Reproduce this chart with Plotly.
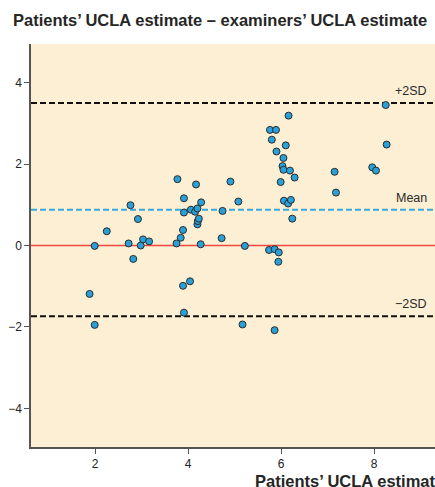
import plotly.graph_objects as go

# Bland-Altman data
avg = [1.88, 1.99, 1.99, 2.25, 2.72, 2.76, 2.82, 2.92, 2.98, 3.03, 3.16, 3.75, 3.77, 3.84,
       3.89, 3.89, 3.91, 3.91, 3.91, 4.04, 4.06, 4.15, 4.17, 4.20, 4.20, 4.21, 4.23, 4.27,
       4.28, 4.72, 4.74, 4.91, 5.08, 5.17, 5.22, 5.74, 5.76, 5.80, 5.86, 5.86, 5.89, 5.90,
       5.94, 5.95, 5.99, 6.03, 6.05, 6.05, 6.06, 6.10, 6.15, 6.16, 6.19, 6.21, 6.24, 6.29,
       7.15, 7.18, 7.96, 8.04, 8.25, 8.27]
diff = [-1.19, -0.01, -1.95, 0.35, 0.05, 0.99, -0.33, 0.65, 0.00, 0.15, 0.10, 0.05, 1.63, 0.19,
        0.38, -0.99, 1.16, 0.81, -1.65, -0.88, 0.88, 0.83, 1.50, 0.91, 0.52, 0.60, 0.66, 0.03,
        1.06, 0.18, 0.85, 1.57, 1.08, -1.94, -0.01, -0.11, 2.84, 2.60, -0.09, -2.08, 2.84, 2.31,
        -0.40, -0.17, 1.56, 1.95, 2.15, 1.86, 1.10, 2.46, 1.03, 3.19, 1.84, 1.12, 0.66, 1.67,
        1.81, 1.30, 1.92, 1.84, 3.45, 2.48]

mean_diff = 0.88
upper_loa = 3.50
lower_loa = -1.74
zero_line = 0

line_values = [upper_loa, mean_diff, lower_loa]
line_labels = ["+2SD", "Mean", "\u22122SD"]

x_ticks = [2, 4, 6, 8]
y_ticks = [-4, -2, 0, 2, 4]
y_tick_labels = ["\u22124", "\u22122", "0", "2", "4"]

title_text = "<b>Patients\u2019 UCLA estimate \u2013 examiners\u2019 UCLA estimate</b>"
x_title_text = "<b>Patients\u2019 UCLA estimate</b>"

FONT = "Liberation Sans, Arial, sans-serif"

fig = go.Figure()

# zero line
fig.add_trace(go.Scatter(x=[0.62, 9.31], y=[zero_line, zero_line], mode="lines",
                         line=dict(color="#F2473F", width=1.3), showlegend=False, hoverinfo="skip"))
# mean line
fig.add_trace(go.Scatter(x=[0.62, 9.31], y=[mean_diff, mean_diff], mode="lines",
                         line=dict(color="#35A9E0", width=2, dash="6px,3px"),
                         showlegend=False, hoverinfo="skip"))
# limits of agreement
for v in (upper_loa, lower_loa):
    fig.add_trace(go.Scatter(x=[0.62, 9.31], y=[v, v], mode="lines",
                             line=dict(color="#111111", width=2, dash="6px,3px"),
                             showlegend=False, hoverinfo="skip"))

fig.add_trace(go.Scatter(
    x=avg, y=diff, mode="markers",
    marker=dict(size=7, color="#2AA0D8", line=dict(color="#2b2b2b", width=1)),
    showlegend=False, hoverinfo="x+y",
))

for v, lab in zip(line_values, line_labels):
    fig.add_annotation(text=lab, xref="paper", x=0.985, xanchor="right",
                       yref="y", y=v, yanchor="bottom", yshift=3, showarrow=False,
                       font=dict(family=FONT, size=12.5, color="#2a2a2a"))

fig.add_annotation(text=x_title_text, xref="paper", x=(253 - 31) / 404, xanchor="left",
                   yref="paper", y=0, yanchor="middle", yshift=-34, showarrow=False,
                   font=dict(family=FONT, size=16.5, color="#262626"))

fig.update_layout(
    width=435, height=487,
    margin=dict(l=31, r=0, t=44, b=40),
    paper_bgcolor="white", plot_bgcolor="#FDEFD3",
    title=dict(text=title_text, x=13 / 435, xanchor="left", xref="container",
               y=1 - 20 / 487, yanchor="middle", yref="container",
               font=dict(family=FONT, size=16.5, color="#262626")),
    font=dict(family=FONT, size=11, color="#333333"),
)
fig.update_xaxes(range=[0.62, 9.31], tickvals=x_ticks, ticks="outside", ticklen=5,
                 tickcolor="#555555", tickwidth=1, showgrid=False, zeroline=False,
                 showline=True, linecolor="#555555", linewidth=1.5,
                 tickfont=dict(family=FONT, size=12, color="#222222"))
fig.update_yaxes(range=[-4.95, 4.95], tickvals=y_ticks, ticktext=y_tick_labels,
                 ticks="outside", ticklen=5, tickcolor="#555555", tickwidth=1,
                 showgrid=False, zeroline=False, showline=True, linecolor="#555555",
                 linewidth=1.5, tickfont=dict(family=FONT, size=12, color="#222222"))

fig.write_html("out.html", config={"displayModeBar": False},
               post_script="document.body.style.margin='0';document.body.style.overflow='hidden';")
